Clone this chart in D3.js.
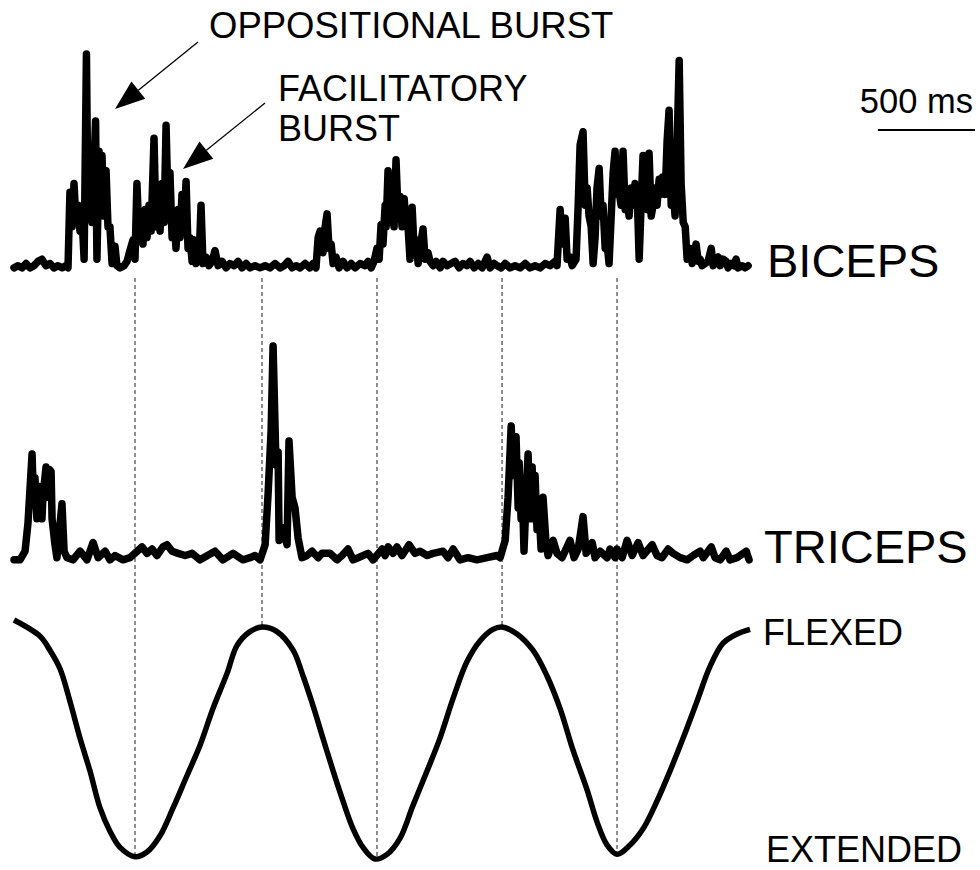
<!DOCTYPE html>
<html>
<head>
<meta charset="utf-8">
<script src="https://cdn.jsdelivr.net/npm/d3@7/dist/d3.min.js"></script>
<style>
  html, body { margin: 0; padding: 0; background: #fff; }
  svg { display: block; }
  text { font-family: "Liberation Sans", Arial, sans-serif; fill: #000; }
</style>
</head>
<body>
<svg id="chart" width="980" height="870"></svg>
<script>
// ---------------- DATA ----------------
// Rectified EMG, biceps: time (ms) and amplitude (arbitrary units, 0-100)
const bicepsTime = [0,21,41,62,82,103,124,144,165,185,206,227,247,268,278,
288,299,309,319,330,340,350,361,373,381,391,402,420,427,438,448,453,464,474,484,494,505,520,530,546,567,582,597,613,623,633,644,654,664,675,685,695,706,721,731,742,752,762,773,783,793,803,814,824,834,845,855,865,876,886,896,906,917,924,937,948,953,963,973,989,1004,1020,1035,1051,1071,1092,1112,1133,1154,1174,1195,1215,1241,1267,1293,1318,1344,1370,1391,1411,1432,1452,1473,1499,1524,1540,1555,1566,1576,1591,1602,1612,1622,1633,1643,1658,1674,1694,1715,1736,1756,1782,1808,1823,1839,1854,1869,1880,1890,1900,1911,1916,1926,1936,1947,1957,1967,1978,1988,1998,2009,2019,2029,2039,2050,2060,2070,2081,2091,2106,2117,2132,2142,2158,2173,2194,2209,2230,2251,2271,2292,2312,2333,2348,2369,2390,2410,2436,2451,2472,2487,2508,2529,2554,2580,2606,2632,2657,2683,2709,2735,2760,2786,2796,2812,2822,2838,2848,2863,2874,2894,2905,2915,2930,2941,2951,2961,2972,2982,2992,3002,3013,3023,3033,3044,3054,3064,3075,3085,3095,3105,3116,3126,3136,3147,3157,3167,3178,3188,3198,3208,3219,3229,3239,3250,3260,3270,3281,3291,3301,3311,3322,3332,3340,3353,3363,3373,3384,3394,3404,3415,3425,3435,3446,3456,3466,3481,3492,3502,3512,3523,3533,3543,3559,3574,3590,3600,3610,3626,3636,3651,3667,3677,3693,3708,3718,3729,3749,3765,3780];
const bicepsAmp = [1,2,1,3,1,2,4,5,2,3,1,2,1,2,1,
36,20,40,22,30,18,25,5,100,25,40,22,69,5,55,35,53,25,46,20,20,3,11,2,1,2,4,9,14,5,40,15,20,12,28,15,30,18,61,20,32,18,40,22,67,30,45,15,25,10,28,15,35,20,41,10,15,4,14,3,10,5,30,3,6,2,4,9,2,4,1,3,2,4,1,3,1,2,1,2,1,3,1,2,4,1,2,1,3,1,3,1,15,18,8,20,26,10,12,3,6,1,4,1,3,1,3,2,4,1,4,10,5,21,12,30,20,46,22,40,20,51,25,34,20,33,20,20,5,29,10,14,3,10,19,5,8,4,2,4,1,4,2,3,4,1,3,2,4,1,3,1,6,1,3,2,1,3,1,2,1,3,1,2,1,3,2,4,2,28,12,24,5,6,2,5,30,58,64,30,38,25,20,3,15,38,47,25,30,10,12,3,25,45,55,35,36,30,55,28,33,25,38,30,40,38,5,30,53,30,28,54,25,30,38,30,42,35,43,35,60,74,30,36,25,60,97,40,22,20,5,10,3,7,12,4,5,2,3,4,10,2,4,6,2,5,4,1,3,2,5,1,2,1,2];

// Rectified EMG, triceps
const tricepsTime = [0,31,57,72,93,98,108,118,129,144,149,165,172,180,191,196,211,221,247,258,273,304,340,376,407,433,469,494,520,561,597,659,685,711,736,767,788,814,845,881,917,958,1035,1076,1128,1179,1215,1241,1267,1293,1308,1324,1334,1349,1360,1365,1380,1385,1406,1416,1432,1447,1463,1483,1509,1535,1566,1586,1627,1663,1689,1720,1746,1772,1823,1849,1895,1911,1926,1952,1972,1998,2034,2065,2091,2127,2158,2209,2235,2261,2297,2338,2384,2436,2487,2503,2529,2544,2560,2570,2585,2596,2601,2611,2616,2626,2637,2647,2657,2668,2673,2683,2693,2704,2714,2724,2740,2750,2776,2796,2822,2863,2884,2905,2930,2946,2977,2992,3018,3054,3069,3095,3105,3131,3157,3183,3214,3239,3286,3311,3337,3368,3394,3430,3466,3497,3533,3549,3590,3610,3636,3667,3687,3723,3770,3785];
const tricepsAmp = [1,1,5,18,50,35,39,20,35,20,30,44,30,43,42,20,8,2,27,5,2,1,5,1,9,2,5,1,3,1,2,7,4,6,3,7,8,5,4,3,4,1,5,1,4,1,2,3,1,8,31,61,100,45,51,10,16,15,8,56,30,25,11,2,3,5,2,4,4,1,3,6,1,2,4,1,6,3,7,4,7,3,8,4,5,3,4,5,2,6,1,2,1,2,3,2,10,30,63,40,58,25,46,20,38,5,30,50,20,44,20,40,15,23,6,30,8,3,10,4,2,10,2,6,21,4,9,2,5,2,6,2,6,2,10,3,9,3,8,3,2,6,4,2,1,3,5,2,7,2,1,5,1,2,5,1];

// Elbow position (0 = extended, 100 = flexed)
const positionTime = [0,134,185,237,288,340,391,443,494,546,623,685,752,819,891,958,1025,1097,1148,1215,1277,1354,1437,1488,1540,1591,1643,1694,1746,1797,1859,1921,1988,2054,2127,2193,2260,2332,2399,2466,2513,2590,2672,2744,2811,2878,2950,3002,3054,3105,3172,3239,3311,3378,3445,3517,3584,3651,3723,3790];
const positionValue = [103,96,90,82,68,52,38,22,12,5,1,3,10,22,36,49,65,80,92,98,100,98,90,79,66,52,38,25,13,5,0,2,9,23,38,52,69,85,94,99,100,97,90,79,65,47,30,16,6,2,6,13,25,38,52,68,83,93,97,99];

// Movement reversal times (ms) marked with dotted lines
const eventTime = [623, 1277, 1869, 2513, 3105];

// Labels
const traceLabels = ["BICEPS", "TRICEPS"];
const positionLabels = ["FLEXED", "EXTENDED"];
const annotationLabels = [["OPPOSITIONAL BURST"], ["FACILITATORY", "BURST"]];
const scaleBarMs = 500;
const scaleBarLabel = "500 ms";

// ---------------- LAYOUT ----------------
const svg = d3.select("#chart");
svg.append("rect").attr("width", 980).attr("height", 870).attr("fill", "#fff");

const x = d3.scaleLinear().domain([0, 3800]).range([14, 752]);
const yBiceps = d3.scaleLinear().domain([0, 100]).range([270, 54]);
const yTriceps = d3.scaleLinear().domain([0, 100]).range([562, 346]);
const yPos = d3.scaleLinear().domain([0, 100]).range([859, 627]);

function interpPos(t) {
  const i = d3.bisectLeft(positionTime, t);
  if (i <= 0) return positionValue[0];
  if (i >= positionTime.length) return positionValue[positionValue.length - 1];
  const t0 = positionTime[i - 1], t1 = positionTime[i];
  const v0 = positionValue[i - 1], v1 = positionValue[i];
  return v0 + (v1 - v0) * (t - t0) / (t1 - t0);
}

// dotted event lines
svg.append("g").selectAll("line")
  .data(eventTime)
  .join("line")
  .attr("x1", d => x(d)).attr("x2", d => x(d))
  .attr("y1", 278)
  .attr("y2", d => yPos(interpPos(d)))
  .attr("stroke", "#444")
  .attr("stroke-width", 1.2)
  .attr("stroke-dasharray", "4,3");

// EMG traces
function emgLine(times, amps, yScale) {
  const data = times.map((t, i) => [t, amps[i]]);
  svg.append("path")
    .datum(data)
    .attr("fill", "none")
    .attr("stroke", "#000")
    .attr("stroke-width", 7.5)
    .attr("stroke-linejoin", "round")
    .attr("stroke-linecap", "round")
    .attr("d", d3.line().x(d => x(d[0])).y(d => yScale(d[1])));
}
emgLine(bicepsTime, bicepsAmp, yBiceps);
emgLine(tricepsTime, tricepsAmp, yTriceps);

// Position trace
svg.append("path")
  .datum(positionTime.map((t, i) => [t, positionValue[i]]))
  .attr("fill", "none")
  .attr("stroke", "#000")
  .attr("stroke-width", 5.5)
  .attr("stroke-linejoin", "round")
  .attr("stroke-linecap", "butt")
  .attr("d", d3.line().curve(d3.curveCatmullRom.alpha(0.5)).x(d => x(d[0])).y(d => yPos(d[1])));

// Trace labels
svg.append("text").attr("x", 767).attr("y", 277).attr("font-size", 47).text(traceLabels[0]);
svg.append("text").attr("x", 764).attr("y", 563).attr("font-size", 47).text(traceLabels[1]);
svg.append("text").attr("x", 763).attr("y", 645).attr("font-size", 36).text(positionLabels[0]);
svg.append("text").attr("x", 766).attr("y", 862).attr("font-size", 36).text(positionLabels[1]);

// Annotations
svg.append("text").attr("x", 209).attr("y", 38).attr("font-size", 36.5).text(annotationLabels[0][0]);
svg.append("text").attr("x", 278).attr("y", 101).attr("font-size", 36).text(annotationLabels[1][0]);
svg.append("text").attr("x", 278).attr("y", 141).attr("font-size", 36).text(annotationLabels[1][1]);

function arrow(x0, y0, x1, y1) {
  const dx = x1 - x0, dy = y1 - y0, L = Math.hypot(dx, dy);
  const ux = dx / L, uy = dy / L, px = -uy, py = ux;
  const headLen = 30, halfW = 11;
  const bx = x1 - ux * headLen, by = y1 - uy * headLen;
  svg.append("line").attr("x1", x0).attr("y1", y0).attr("x2", bx).attr("y2", by)
    .attr("stroke", "#000").attr("stroke-width", 1.3);
  svg.append("path")
    .attr("d", d3.line()([[x1, y1], [bx + px * halfW, by + py * halfW], [bx - px * halfW, by - py * halfW]]) + "Z")
    .attr("fill", "#000");
}
arrow(198, 42, 115, 109);
arrow(265, 103, 183, 169);

// Scale bar
const sbX1 = 975, sbX0 = sbX1 - (x(scaleBarMs) - x(0));
svg.append("line").attr("x1", sbX0).attr("x2", sbX1).attr("y1", 130).attr("y2", 130)
  .attr("stroke", "#000").attr("stroke-width", 2);
svg.append("text").attr("x", 973).attr("y", 113).attr("text-anchor", "end").attr("font-size", 34.5).text(scaleBarLabel);
</script>
</body>
</html>
